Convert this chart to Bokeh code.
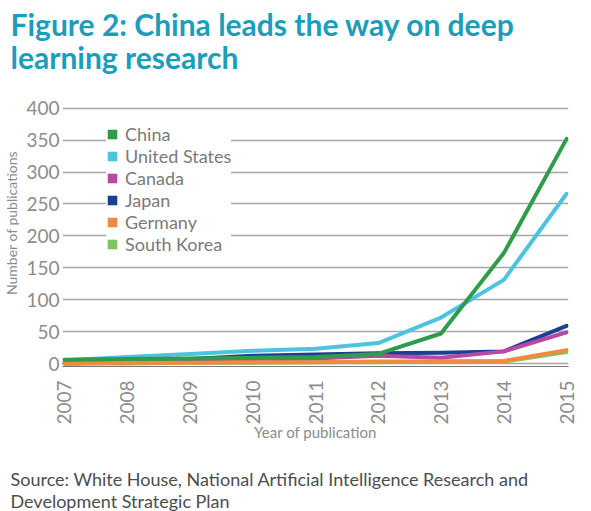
from math import pi

from bokeh.embed import file_html
from bokeh.models import Legend, LegendItem, Range1d, Title
from bokeh.plotting import figure
from bokeh.resources import INLINE

# publications on deep learning per year
years = [2007, 2008, 2009, 2010, 2011, 2012, 2013, 2014, 2015]
china = [6, 7, 8, 9, 10, 15, 47, 173, 352]
united_states = [5, 10, 15, 20, 23, 32, 72, 131, 266]
canada = [0, 2, 4, 6, 8, 12, 9, 19, 49]
japan = [1, 4, 7, 12, 14, 16, 17, 19, 59]
germany = [0, 1, 1, 2, 2, 3, 3, 4, 21]
south_korea = [0, 0, 1, 1, 2, 2, 3, 3, 18]

countries = ["China", "United States", "Canada", "Japan", "Germany", "South Korea"]
colors = ["#2e9d4a", "#4ec3e0", "#b64aa2", "#1b3f91", "#f08a3c", "#7dc462"]
series = [china, united_states, canada, japan, germany, south_korea]
yticks = [0, 50, 100, 150, 200, 250, 300, 350, 400]

TEAL = "#1b9dbb"
GREY = "#8c8c8c"
FONT = "Lato"

p = figure(width=591, height=511, output_backend="svg", toolbar_location=None,
           tools="", x_range=Range1d(2006.97, 2015.03), y_range=Range1d(-4.7, 445),
           min_border_left=60, min_border_right=23, min_border_top=0,
           min_border_bottom=0, outline_line_color=None, title=None)

# lines, drawn so china and germany sit on top like the original
order = [5, 3, 2, 1, 4, 0]
for i in order:
    p.line(years, series[i], line_color=colors[i], line_width=4, line_join="round", line_cap="round")

# square swatches for the legend (no visible data)
nan = float("nan")
items = []
for name, c in zip(countries, colors):
    r = p.quad(left=[nan], right=[nan], top=[nan], bottom=[nan], fill_color=c, line_color=None)
    items.append(LegendItem(label=name, renderers=[r]))
legend = Legend(items=items, location=(44, 111), glyph_width=12, glyph_height=12,
                label_height=20, spacing=0, padding=5, label_standoff=7,
                label_text_font=FONT, label_text_font_size="18px", label_text_color="#7a7a7a",
                border_line_color=None, background_fill_color="white", background_fill_alpha=1)
p.add_layout(legend, "center")

p.xgrid.grid_line_color = None
p.ygrid.ticker = yticks
p.ygrid.grid_line_color = "#a6a6a6"
p.ygrid.grid_line_width = 1.5

p.yaxis.ticker = yticks
p.yaxis.axis_line_color = None
p.yaxis.major_tick_line_color = None
p.yaxis.minor_tick_line_color = None
p.yaxis.major_tick_out = 0
p.yaxis.major_tick_in = 0
p.yaxis.major_label_standoff = 3
p.yaxis.major_label_text_font = FONT
p.yaxis.major_label_text_font_size = "19px"
p.yaxis.major_label_text_color = GREY
p.yaxis.axis_label = "Number of publications"
p.yaxis.axis_label_text_font = FONT
p.yaxis.axis_label_text_font_size = "14px"
p.yaxis.axis_label_text_font_style = "normal"
p.yaxis.axis_label_text_color = GREY
p.yaxis.axis_label_standoff = 3

p.xaxis.ticker = years
p.xaxis.major_label_orientation = pi / 2
p.xaxis.axis_line_color = "#777777"
p.xaxis.major_tick_line_color = None
p.xaxis.minor_tick_line_color = None
p.xaxis.major_tick_out = 0
p.xaxis.major_tick_in = 0
p.xaxis.major_label_standoff = 14
p.xaxis.major_label_text_font = FONT
p.xaxis.major_label_text_font_size = "19px"
p.xaxis.major_label_text_color = GREY
p.xaxis.axis_label = "Year of publication"
p.xaxis.axis_label_text_font = FONT
p.xaxis.axis_label_text_font_size = "15px"
p.xaxis.axis_label_text_font_style = "normal"
p.xaxis.axis_label_text_color = GREY
p.xaxis.axis_label_standoff = -5

# two-line title above the plot
p.add_layout(Title(text="Figure 2: China leads the way on deep\nlearning research",
                   align="left", offset=-52, standoff=8, text_line_height=0.92,
                   text_font=FONT, text_font_size="30px", text_font_style="bold",
                   text_color=TEAL), "above")

# source note below the x axis (leading blank line gives the gap under the axis)
p.add_layout(Title(text="\nSource: White House, National Artificial Intelligence Research and\n"
                        "Development Strategic Plan",
                   align="left", offset=-52, standoff=0, text_line_height=1.0,
                   text_font=FONT, text_font_size="18px", text_font_style="normal",
                   text_color="#4d4d4d"), "below")

open("out.html", "w").write(file_html(p, INLINE))
